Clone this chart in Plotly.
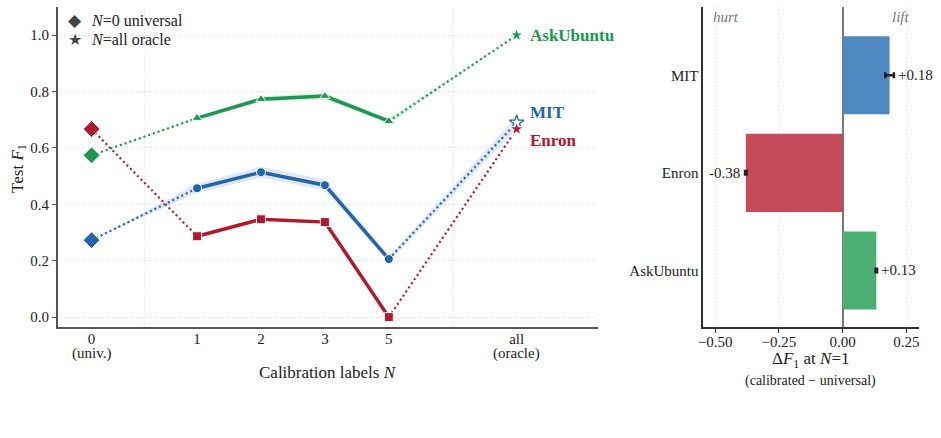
import plotly.graph_objects as go

# ---------------- data ----------------
n_labels = ["0", "1", "2", "3", "5", "all"]
n_sublabels = ["(univ.)", "", "", "", "", "(oracle)"]
datasets = ["MIT", "Enron", "AskUbuntu"]
mit_f1 = [0.273, 0.457, 0.514, 0.468, 0.206, 0.690]
enron_f1 = [0.667, 0.287, 0.347, 0.337, 0.000, 0.667]
ask_f1 = [0.574, 0.706, 0.773, 0.784, 0.695, 1.000]
mit_sd = [0.0, 0.016, 0.020, 0.020, 0.010, 0.022]
enron_sd = [0.0, 0.0, 0.0, 0.0, 0.0, 0.0]
ask_sd = [0.0, 0.004, 0.010, 0.012, 0.010, 0.0]
delta_err = [0.017, 0.003, 0.003]

# ---------------- layout helpers ----------------
x_slots = [-0.65, 1, 2, 3, 4, 6]   # horizontal slot of each N setting
FONT = "Liberation Serif"
C_MIT, C_ENR, C_ASK = "#2166ac", "#b2182b", "#1a9850"
BAR_C = ["#4f87c1", "#c54a5a", "#4caf74"]
GRID = "#dedede"
AX = "#555555"
DOT = "2px,3px"

series = [
    ("MIT", mit_f1, mit_sd, C_MIT, "rgba(33,102,172,0.14)", "circle"),
    ("Enron", enron_f1, enron_sd, C_ENR, "rgba(178,24,43,0.14)", "square"),
    ("AskUbuntu", ask_f1, ask_sd, C_ASK, "rgba(26,152,80,0.14)", "triangle-up"),
]

fig = go.Figure()

for name, f1, sd, col, band, sym in series:
    up = [v + s for v, s in zip(f1, sd)]
    lo = [v - s for v, s in zip(f1, sd)]
    if any(s > 0 for s in sd):
        fig.add_trace(go.Scatter(x=x_slots + x_slots[::-1], y=up + lo[::-1],
                                 fill="toself", fillcolor=band, line=dict(width=0),
                                 mode="lines", showlegend=False, hoverinfo="skip",
                                 xaxis="x", yaxis="y"))
for name, f1, sd, col, band, sym in series:
    fig.add_trace(go.Scatter(x=x_slots[0:2], y=f1[0:2], mode="lines",
                             line=dict(color=col, width=2.2, dash=DOT),
                             showlegend=False, xaxis="x", yaxis="y"))
    fig.add_trace(go.Scatter(x=x_slots[4:6], y=f1[4:6], mode="lines",
                             line=dict(color=col, width=2.2, dash=DOT),
                             showlegend=False, xaxis="x", yaxis="y"))
    fig.add_trace(go.Scatter(x=x_slots[1:5], y=f1[1:5], mode="lines+markers",
                             line=dict(color=col, width=3.5),
                             marker=dict(symbol=sym, size=9, color=col,
                                         line=dict(color="white", width=1)),
                             showlegend=False, xaxis="x", yaxis="y"))
    fig.add_trace(go.Scatter(x=x_slots[0:1], y=f1[0:1], mode="markers",
                             marker=dict(symbol="diamond", size=13, color=col,
                                         line=dict(color="white", width=1)),
                             showlegend=False, xaxis="x", yaxis="y"))
for name, f1, sd, col, band, sym in series:
    fill = "white" if name == "MIT" else col
    fig.add_trace(go.Scatter(x=x_slots[5:6], y=f1[5:6], mode="markers",
                             marker=dict(symbol="star", size=11, color=fill,
                                         line=dict(color=col if name == "MIT" else "white",
                                                   width=1.3)),
                             showlegend=False, xaxis="x", yaxis="y"))

# ---------------- right panel: delta at N=1 ----------------
f1_sets = [mit_f1, enron_f1, ask_f1]
deltas = [round(f[1] - f[0], 3) for f in f1_sets]
fig.add_trace(go.Bar(y=datasets, x=deltas, orientation="h", width=0.8,
                     marker=dict(color=BAR_C, line=dict(width=0)),
                     error_x=dict(type="data", array=delta_err, color="#222222",
                                  thickness=2.5, width=3),
                     showlegend=False, xaxis="x2", yaxis="y2"))

TXT = "#222222"
annotations = []
for ds, d, e in zip(datasets, deltas, delta_err):
    pos = d >= 0
    annotations.append(dict(x=d + e if pos else d - e, y=ds, xref="x2", yref="y2",
                            text=f"{d:+.2f}", showarrow=False,
                            xanchor="left" if pos else "right", yanchor="middle",
                            xshift=2 if pos else -3,
                            font=dict(family=FONT, size=15, color=TXT)))

lab_shift = {"MIT": 10, "Enron": -11, "AskUbuntu": 0}
for name, f1, sd, col, band, sym in series:
    annotations.append(dict(x=x_slots[5], y=f1[5], xref="x", yref="y",
                            text=f"<b>{name}</b>", showarrow=False,
                            xanchor="left", yanchor="middle", xshift=11,
                            yshift=lab_shift[name],
                            font=dict(family=FONT, size=17, color=col)))

for xs, sub in zip(x_slots, n_sublabels):
    if sub:
        annotations.append(dict(x=xs, y=1 - 353 / 438, xref="x", yref="paper", text=sub,
                                showarrow=False, xanchor="center", yanchor="middle",
                                font=dict(family=FONT, size=15, color=TXT)))

def ptxt(x, y, text, size, anchor="center", **kw):
    return dict(x=x / 941, y=1 - y / 438, xref="paper", yref="paper", text=text,
                showarrow=False, xanchor=anchor, yanchor="middle",
                font=dict(family=FONT, size=size, color=kw.pop("color", TXT)), **kw)

annotations += [
    ptxt(14, 168, "Test <i>F</i><sub>1</sub>", 17, textangle=-90),
    ptxt(325, 372, "Calibration labels <i>N</i>", 17),
    ptxt(810, 360, "Δ<i>F</i><sub>1</sub> at <i>N</i>=1", 17),
    ptxt(810, 381, "(calibrated − universal)", 14),
    ptxt(70, 20, "◆", 17, color="#444444"),
    ptxt(70, 39, "★", 16, color="#444444"),
    ptxt(84, 20, "<i>N</i>=0 universal", 16, anchor="left"),
    ptxt(84, 39, "<i>N</i>=all oracle", 16, anchor="left"),
    dict(x=-0.457, y=0.968, xref="x2", yref="y2 domain", text="<i>hurt</i>",
         showarrow=False, xanchor="center", yanchor="middle",
         font=dict(family=FONT, size=15, color="#777777")),
    dict(x=0.227, y=0.968, xref="x2", yref="y2 domain", text="<i>lift</i>",
         showarrow=False, xanchor="center", yanchor="middle",
         font=dict(family=FONT, size=15, color="#777777")),
]

shapes = []
for xs in [(x_slots[0] + x_slots[1]) / 2, (x_slots[4] + x_slots[5]) / 2]:
    shapes.append(dict(type="line", xref="x", yref="y domain", x0=xs, x1=xs, y0=0, y1=1,
                       line=dict(color=GRID, width=1, dash="1px,2px"), layer="below"))

ydom = [1 - 327 / 438, 1 - 7 / 438]
fig.update_layout(
    width=941, height=438, margin=dict(l=0, r=0, t=0, b=0),
    paper_bgcolor="white", plot_bgcolor="white", showlegend=False,
    font=dict(family=FONT, size=15, color=TXT),
    xaxis=dict(domain=[53 / 941, 596 / 941], range=[-1.18, 7.27],
               tickvals=x_slots, ticktext=n_labels, showgrid=False, zeroline=False,
               showline=True, linecolor=AX, linewidth=1.5, ticks="", tickfont=dict(size=15),
               ticklabelstandoff=-3),
    yaxis=dict(domain=ydom, range=[-0.035, 1.10], tickvals=[0, 0.2, 0.4, 0.6, 0.8, 1.0],
               tickformat=".1f", showgrid=True, gridcolor=GRID, griddash="1px,2px", gridwidth=1,
               zeroline=False, showline=True, linecolor=AX, linewidth=1.5,
               ticks="outside", ticklen=4, tickcolor=AX, tickfont=dict(size=15)),
    xaxis2=dict(domain=[702 / 941, 919 / 941], range=[-0.547, 0.30],
                tickvals=[-0.5, -0.25, 0, 0.25], tickformat=".2f",
                showgrid=True, gridcolor=GRID, griddash="1px,2px", gridwidth=1,
                zeroline=True, zerolinecolor="#777777", zerolinewidth=1.5,
                showline=True, linecolor="#333333", linewidth=1.5,
                ticks="outside", ticklen=4, tickcolor="#333333", tickfont=dict(size=15),
                ticklabelstandoff=-4, anchor="y2"),
    yaxis2=dict(domain=ydom, range=[2.58, -0.70], showgrid=False, zeroline=False,
                showline=True, linecolor="#333333", linewidth=1.5, ticks="",
                tickfont=dict(size=15), anchor="x2"),
    annotations=annotations, shapes=shapes, bargap=0.2,
)

fig.write_html("out.html")
